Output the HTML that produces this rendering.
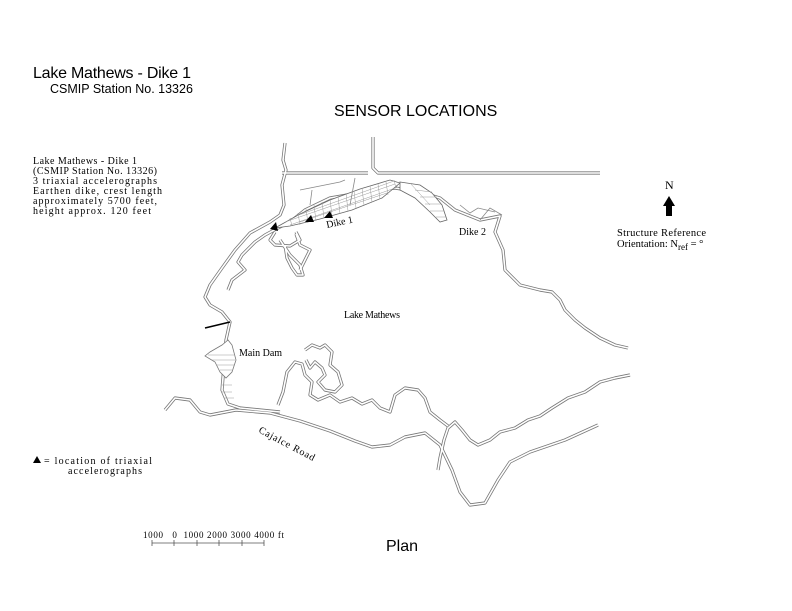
<!DOCTYPE html>
<html><head><meta charset="utf-8"><style>
html,body{margin:0;padding:0;background:#fff}
svg{display:block}
.s{font-family:"Liberation Sans",sans-serif;fill:#000}
.r{font-family:"Liberation Serif",serif;fill:#000;font-size:10px}
.o{fill:none;stroke:#777;stroke-width:3.2;stroke-linejoin:round}
.i{fill:none;stroke:#fff;stroke-width:1.6;stroke-linejoin:round}
.t{fill:none;stroke:#888;stroke-width:0.8}
</style></head><body>
<svg width="792" height="611" viewBox="0 0 792 611" xmlns="http://www.w3.org/2000/svg">
<defs>
<g id="L" fill="none">
<path d="M285,143 L283,160 L286,170 L282,185 L284,205 L280,215 L270,222 L250,233 L235,250 L222,268 L210,285 L205,297 L210,305 L222,312 L230,322 L226,340 L224,365 L222,390 L228,404 L240,408 L280,412"/>
<path d="M373,137 L373,168 L378,173 L600,173 M368,173 L282,173"/>
<path d="M165,410 L175,398 L190,400 L200,412 L210,415 L236,410 L270,413 L300,421 L330,431 L355,441 L372,447 L390,445 L405,437 L425,433 L440,445 L452,470 L460,492 L470,505 L485,503 L498,480 L510,462 L530,452 L565,440 L598,425"/>
<path d="M278,228 L290,222 L305,210 L330,198 L365,192 L395,188 L420,192 L440,198 L455,210 L470,216 L480,220 L500,216 L495,232 L503,250 L505,270 L520,285 L540,290 L552,292 L560,300 L565,310 L575,320 L585,328 L600,338 L615,345 L628,348"/>
<path d="M278,228 L265,235 L255,242 L242,255 L238,262 L245,270 L232,280 L228,290"/>
<path d="M275,232 L270,240 L275,245 L290,246 L300,240 L296,232"/>
<path d="M280,240 L290,255 L300,265 L303,275 L297,275 L292,268 L287,258 L285,245"/>
<path d="M296,234 L300,245 L310,250 L305,260 L300,270"/>
<path d="M630,375 L615,378 L600,382 L585,392 L568,398 L552,408 L540,416 L528,420 L515,428 L500,432 L490,440 L478,445 L470,440 L462,430 L455,422 L448,428 L444,440 L440,458 L438,470"/>
<path d="M278,405 L283,392 L287,372 L295,362 L302,364 L305,375 L312,382 L310,395 L318,400 L330,395 L340,402 L352,398 L362,404 L372,400 L380,408 L390,412 L395,395 L405,388 L418,390 L425,398 L430,412 L440,420 L448,426"/>
<path d="M305,350 L312,345 L320,348 L325,345 L332,352 L330,365 L338,372 L342,385 L335,392 L325,390 L318,382 L325,375 L322,368 L315,362 L310,368 L306,360"/>
</g>
</defs>
<text class="s" x="33" y="78" font-size="16" textLength="158">Lake Mathews - Dike 1</text>
<text class="s" x="50" y="93" font-size="12.5">CSMIP Station No. 13326</text>
<text class="s" x="334" y="116" font-size="16">SENSOR LOCATIONS</text>
<g class="r">
<text x="33" y="164" textLength="104">Lake Mathews - Dike 1</text>
<text x="33" y="174" textLength="124">(CSMIP Station No. 13326)</text>
<text x="33" y="184" textLength="124">3 triaxial accelerographs</text>
<text x="33" y="194" textLength="129">Earthen dike, crest length</text>
<text x="33" y="204" textLength="124">approximately 5700 feet,</text>
<text x="33" y="214" textLength="118">height approx. 120 feet</text>
<text x="44" y="464" textLength="108">= location of triaxial</text>
<text x="68" y="474" textLength="74">accelerographs</text>
<text x="617" y="236" font-size="10.5" textLength="89">Structure Reference</text>
<text x="617" y="247" font-size="10.5">Orientation: N<tspan font-size="9" dy="3">ref</tspan><tspan dy="-3"> = °</tspan></text>
<text x="665" y="189" font-size="12">N</text>
<text x="327" y="228" transform="rotate(-12 327 228)">Dike 1</text>
<text x="459" y="235">Dike 2</text>
<text x="344" y="318" textLength="56">Lake Mathews</text>
<text x="239" y="356">Main Dam</text>
<text x="258" y="432" transform="rotate(28 258 432)" textLength="62">Cajalce Road</text>
<text x="143" y="538" font-size="9" textLength="141">1000&#160;&#160;&#160;0&#160;&#160;1000 2000 3000 4000 ft</text>
</g>
<polygon points="33,463 37,456 41,463" fill="#000"/>
<polygon points="666,216 672,216 672,206 675,206 669,196 663,206 666,206" fill="#000"/>
<text class="s" x="386" y="551" font-size="16">Plan</text>
<g stroke="#555" stroke-width="0.8"><line x1="152" y1="543" x2="264" y2="543"/>
<line x1="152" y1="540" x2="152" y2="546"/><line x1="174" y1="540" x2="174" y2="546"/><line x1="197" y1="540" x2="197" y2="546"/><line x1="219" y1="540" x2="219" y2="546"/><line x1="242" y1="540" x2="242" y2="546"/><line x1="264" y1="540" x2="264" y2="546"/></g>
<use href="#L" class="o"/>
<use href="#L" class="i"/>
<path d="M275,228 L300,214 L330,200 L360,189 L390,180 L400,183 L382,198 L352,210 L320,219 L290,226 Z" fill="#fff" stroke="#666" stroke-width="0.8"/>
<path d="M400,182 L420,185 L432,193 L442,205 L447,220 L440,222 L430,212 L415,198 L400,190 Z" fill="#fff" stroke="#666" stroke-width="0.8"/>
<g stroke="#999" stroke-width="0.5">
<line x1="290" y1="218" x2="292" y2="226"/><line x1="298" y1="213" x2="300" y2="225"/><line x1="306" y1="209" x2="308" y2="223"/><line x1="314" y1="205" x2="316" y2="221"/><line x1="322" y1="202" x2="324" y2="218"/><line x1="330" y1="199" x2="332" y2="216"/><line x1="338" y1="196" x2="340" y2="214"/><line x1="346" y1="193" x2="348" y2="211"/><line x1="354" y1="191" x2="356" y2="208"/><line x1="362" y1="188" x2="364" y2="205"/><line x1="370" y1="186" x2="372" y2="202"/><line x1="378" y1="184" x2="380" y2="199"/><line x1="386" y1="182" x2="388" y2="195"/><line x1="394" y1="180" x2="396" y2="188"/>
<line x1="285" y1="222" x2="395" y2="184"/><line x1="290" y1="225" x2="398" y2="187"/><line x1="296" y1="216" x2="394" y2="181"/><line x1="300" y1="222" x2="390" y2="192"/>
<line x1="415" y1="190" x2="432" y2="192"/><line x1="420" y1="197" x2="437" y2="197"/><line x1="425" y1="204" x2="441" y2="204"/><line x1="430" y1="211" x2="444" y2="211"/><line x1="436" y1="217" x2="446" y2="217"/><line x1="410" y1="183" x2="430" y2="205"/>
</g>
<path d="M228,340 L222,345 L210,352 L205,356 L215,362 L220,372 L226,378 L232,372 L236,360 L232,345 Z" stroke="#777" stroke-width="0.8" fill="#fff"/>
<g stroke="#999" stroke-width="0.5">
<line x1="208" y1="355" x2="234" y2="355"/><line x1="212" y1="360" x2="235" y2="360"/><line x1="216" y1="365" x2="234" y2="365"/><line x1="220" y1="370" x2="232" y2="370"/><line x1="222" y1="385" x2="232" y2="385"/><line x1="222" y1="392" x2="232" y2="392"/><line x1="224" y1="398" x2="234" y2="398"/>
</g>
<line x1="205" y1="328" x2="230" y2="322" stroke="#000" stroke-width="1.6"/>
<path d="M300,190 L340,182 L345,180 M355,178 L350,205 M312,190 L310,205 M460,205 L470,213 L478,208 L495,212 M480,220 L490,208 L502,215" class="t"/>
<polygon points="270,229 276,222 278,231" fill="#000"/>
<polygon points="305,222 311,215 314,222" fill="#000"/>
<polygon points="324,218 330,211 333,218" fill="#000"/>
</svg>
</body></html>
